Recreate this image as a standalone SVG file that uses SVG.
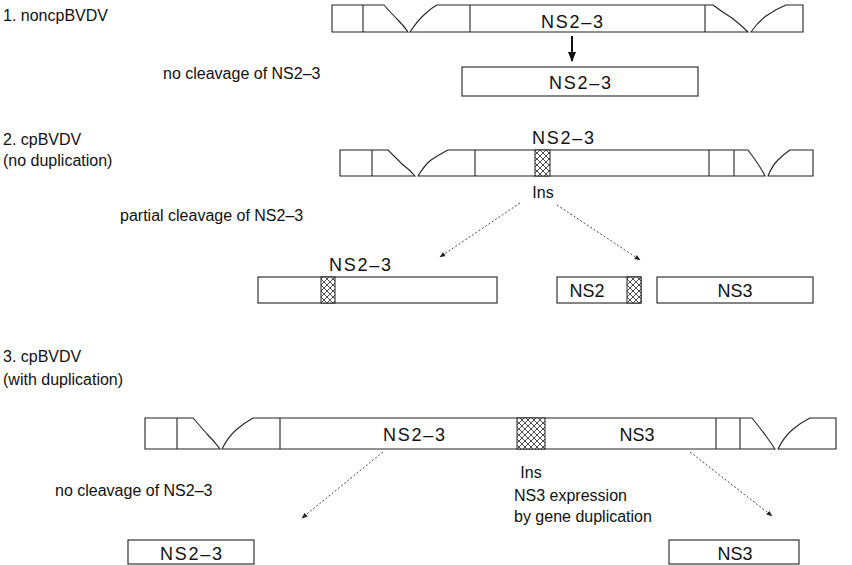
<svg xmlns="http://www.w3.org/2000/svg" width="852" height="565" viewBox="0 0 852 565">
<style>
text{font-family:"Liberation Sans",Arial,sans-serif;fill:#111;font-size:16px}
.lb{font-size:18px}
.c{text-anchor:middle}
.o{fill:none;stroke:#222;stroke-width:1.1}
.w{fill:#fff;stroke:#222;stroke-width:1.1}
.d{fill:none;stroke:#333;stroke-width:0.9;stroke-dasharray:2 2}
</style>
<defs>
<pattern id="hx" width="6" height="6" patternUnits="userSpaceOnUse">
<rect width="6" height="6" fill="#fff"/>
<path d="M0,0L6,6M6,0L0,6" stroke="#222" stroke-width="0.8"/>
</pattern>
<marker id="ah" viewBox="0 0 10 10" refX="9" refY="5" markerWidth="6" markerHeight="6" orient="auto" markerUnits="userSpaceOnUse">
<path d="M0,1L10,5L0,9Z" fill="#222"/>
</marker>
<marker id="ahb" viewBox="0 0 10 10" refX="9" refY="5" markerWidth="10" markerHeight="10" orient="auto" markerUnits="userSpaceOnUse">
<path d="M0,1L10,5L0,9Z" fill="#111"/>
</marker>
</defs>

<g id="row1">
<text x="3" y="21">1. noncpBVDV</text>
<text x="163" y="79">no cleavage of NS2–3</text>
<g id="genome1">
<path class="w" d="M332,32V5H384Q392,14 398,20Q404,26 408,32Z"/>
<line class="o" x1="363" y1="5" x2="363" y2="32"/>
<path class="w" d="M410,32Q418,20 425,14Q431,8 437,5H713Q722,12 732,18Q742,26 748,32Z"/>
<line class="o" x1="470" y1="5" x2="470" y2="32"/>
<line class="o" x1="705" y1="5" x2="705" y2="32"/>
<path class="w" d="M751,32Q758,22 766,16Q776,9 786,5H803V32Z"/>
<text class="lb c" x="572" y="28" textLength="62">NS2–3</text>
</g>
<g id="prod1">
<rect class="w" x="462" y="67" width="236" height="29"/>
<text class="lb c" x="580" y="89" textLength="62">NS2–3</text>
</g>
</g>

<g id="row2">
<text x="3" y="145">2. cpBVDV</text>
<text x="3" y="166">(no duplication)</text>
<text x="120" y="221">partial cleavage of NS2–3</text>
<g id="genome2">
<text class="lb c" x="563" y="144" textLength="62">NS2–3</text>
<path class="w" d="M340,176V150H388Q396,158 402,164Q410,170 415,176Z"/>
<line class="o" x1="372" y1="150" x2="372" y2="176"/>
<path class="w" d="M418,176Q424,166 431,160Q440,154 448,150H748Q754,158 758,164Q762,170 765,176Z"/>
<line class="o" x1="475" y1="150" x2="475" y2="176"/>
<rect x="535" y="150" width="15" height="26" fill="url(#hx)" stroke="#222" stroke-width="1"/>
<line class="o" x1="709" y1="150" x2="709" y2="176"/>
<line class="o" x1="734" y1="150" x2="734" y2="176"/>
<path class="w" d="M768,176Q772,166 778,160Q784,154 790,150H813V176Z"/>
<text class="c" x="543" y="198">Ins</text>
</g>
<g id="prod2a">
<text class="lb c" x="360" y="271" textLength="62">NS2–3</text>
<rect class="w" x="258" y="277" width="239" height="26"/>
<rect x="321" y="277" width="14" height="26" fill="url(#hx)" stroke="#222" stroke-width="1"/>
</g>
<g id="prod2b">
<rect class="w" x="557" y="277" width="84" height="26"/>
<rect x="627" y="277" width="14" height="26" fill="url(#hx)" stroke="#222" stroke-width="1"/>
<text class="lb c" x="587" y="297">NS2</text>
</g>
<g id="prod2c">
<rect class="w" x="657" y="277" width="156" height="26"/>
<text class="lb c" x="735" y="297">NS3</text>
</g>
</g>

<g id="row3">
<text x="3" y="362">3. cpBVDV</text>
<text x="3" y="385">(with duplication)</text>
<text x="55" y="496">no cleavage of NS2–3</text>
<g id="genome3">
<path class="w" d="M145,449V418H193Q201,427 207,434Q214,441 220,449Z"/>
<line class="o" x1="177" y1="418" x2="177" y2="449"/>
<path class="w" d="M222,449Q228,437 236,430Q244,423 253,418H752Q760,428 766,436Q771,443 775,449Z"/>
<line class="o" x1="280" y1="418" x2="280" y2="449"/>
<rect x="517" y="418" width="28" height="31" fill="url(#hx)" stroke="#222" stroke-width="1"/>
<line class="o" x1="716" y1="418" x2="716" y2="449"/>
<line class="o" x1="740" y1="418" x2="740" y2="449"/>
<path class="w" d="M778,449Q784,437 792,430Q800,423 810,418H836V449Z"/>
<text class="lb c" x="414" y="441" textLength="62">NS2–3</text>
<text class="lb c" x="637" y="441">NS3</text>
<text class="c" x="531" y="478">Ins</text>
<text x="514" y="501">NS3 expression</text>
<text x="514" y="522">by gene duplication</text>
</g>
<g id="prod3a">
<rect class="w" x="128" y="540" width="126" height="24"/>
<text class="lb c" x="191" y="560" textLength="62">NS2–3</text>
</g>
<g id="prod3b">
<rect class="w" x="669" y="540" width="130" height="24"/>
<text class="lb c" x="735" y="560">NS3</text>
</g>
</g>

<g id="connectors">
<line x1="572" y1="36" x2="572" y2="61" stroke="#111" stroke-width="2" marker-end="url(#ahb)"/>
<line class="d" x1="520" y1="203" x2="440" y2="257" marker-end="url(#ah)"/>
<line class="d" x1="557" y1="205" x2="640" y2="260" marker-end="url(#ah)"/>
<line class="d" x1="383" y1="452" x2="302" y2="518" marker-end="url(#ah)"/>
<line class="d" x1="690" y1="452" x2="772" y2="516" marker-end="url(#ah)"/>
</g>
</svg>
